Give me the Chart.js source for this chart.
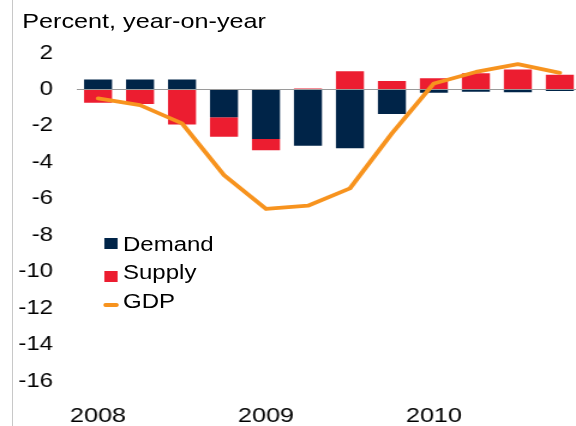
<!DOCTYPE html>
<html>
<head>
<meta charset="utf-8">
<script src="https://cdn.jsdelivr.net/npm/chart.js"></script>
<style>
  html, body { margin: 0; padding: 0; background: #fff; overflow: hidden; }
  body { width: 576px; height: 426px; position: relative; font-family: "Liberation Sans", Arial, sans-serif; }
  #edge { position: absolute; left: 12px; top: 0; width: 1px; height: 426px; background: #c8c8c8; }
  /* the source picture is stretched sideways, so the whole chart is drawn narrow and scaled */
  #wrap { position: absolute; left: 0; top: 0; width: 484px; height: 426px; transform: scaleX(1.2); transform-origin: 0 0; }
  #title { position: absolute; left: 18.5px; top: 10px; font-size: 21px; line-height: 21px; color: #000; white-space: nowrap; }
  .lg { position: absolute; left: 102.5px; font-size: 20px; line-height: 20px; color: #000; white-space: nowrap; }
  .sw { position: absolute; left: 86.5px; width: 11.5px; height: 11px; }
</style>
</head>
<body>
<div id="edge"></div>
<div id="wrap">
  <canvas id="myChart" width="484" height="426"></canvas>
  <div id="title">Percent, year-on-year</div>
  <div class="sw" style="top:238px;background:#002448"></div>
  <div class="lg" style="top:234px">Demand</div>
  <div class="sw" style="top:271px;background:#ec1d30"></div>
  <div class="lg" style="top:262px">Supply</div>
  <div class="sw" style="top:303px;height:3.5px;width:13px;left:86px;border-radius:2px;background:#f7931e"></div>
  <div class="lg" style="top:290.5px">GDP</div>
</div>
<script>
var quarters = ["2008Q1","2008Q2","2008Q3","2008Q4","2009Q1","2009Q2","2009Q3","2009Q4","2010Q1","2010Q2","2010Q3","2010Q4"];
var yearLabels = ["2008","","","","2009","","","","2010","","",""];
var demand = [0.55, 0.55, 0.55, -1.53, -2.72, -3.09, -3.23, -1.35, -0.18, -0.12, -0.16, -0.09];
var supply = [-0.73, -0.8, -1.92, -1.07, -0.62, 0.05, 1.0, 0.47, 0.62, 0.89, 1.09, 0.80];
var gdp = [-0.49, -0.86, -1.86, -4.7, -6.56, -6.38, -5.43, -2.41, 0.33, 0.96, 1.39, 0.91];

var navy = "#002448";
var red = "#ec1d30";
var orange = "#f7931e";

new Chart("myChart", {
  type: "bar",
  data: {
    labels: quarters,
    datasets: [
      {
        label: "GDP",
        type: "line",
        data: gdp,
        borderColor: orange,
        borderWidth: 3.8,
        borderCapStyle: "round",
        borderJoinStyle: "round",
        pointRadius: 0,
        tension: 0,
        fill: false,
        stack: "gdp",
        order: 0
      },
      {
        label: "Demand",
        data: demand,
        backgroundColor: navy,
        barPercentage: 0.667,
        categoryPercentage: 1,
        stack: "parts",
        order: 1
      },
      {
        label: "Supply",
        data: supply,
        backgroundColor: red,
        barPercentage: 0.667,
        categoryPercentage: 1,
        stack: "parts",
        order: 1
      }
    ]
  },
  options: {
    responsive: false,
    animation: false,
    layout: { padding: { top: 53, left: 0, right: 0, bottom: 0 } },
    plugins: {
      legend: { display: false },
      title: { display: false },
      tooltip: { enabled: false }
    },
    scales: {
      x: {
        stacked: true,
        grid: { display: false },
        border: { display: false },
        ticks: {
          autoSkip: false,
          maxRotation: 0,
          minRotation: 0,
          padding: 15,
          color: "#000",
          font: { family: "'Liberation Sans', Arial, sans-serif", size: 21 },
          callback: function (v, i) { return yearLabels[i]; }
        },
        afterFit: function (s) { s.height = 45; }
      },
      y: {
        stacked: true,
        min: -16,
        max: 2,
        border: { display: false },
        grid: {
          drawTicks: false,
          lineWidth: 1,
          color: function (c) { return c.tick && c.tick.value === 0 ? "#9a9a9a" : "rgba(0,0,0,0)"; }
        },
        ticks: {
          stepSize: 2,
          padding: 20,
          color: "#000",
          font: { family: "'Liberation Sans', Arial, sans-serif", size: 20 }
        },
        afterFit: function (s) { s.width = 64.2; }
      }
    }
  }
});
</script>
</body>
</html>
